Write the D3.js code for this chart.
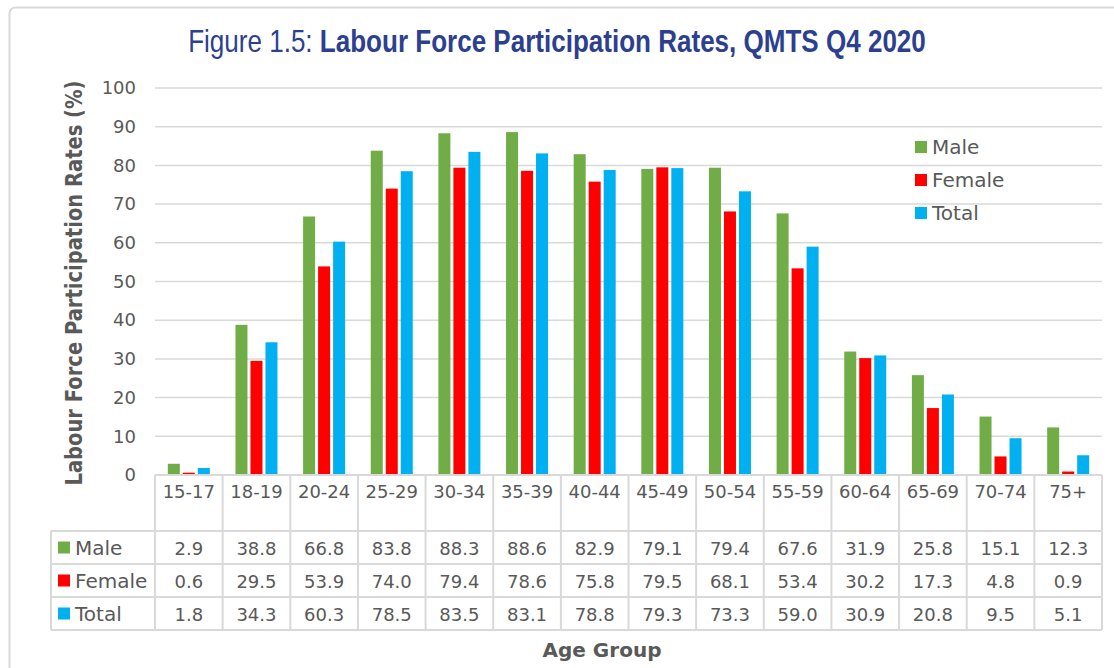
<!DOCTYPE html>
<html>
<head>
<meta charset="utf-8">
<script src="https://cdn.jsdelivr.net/npm/d3@7"></script>
<style>
  body { margin: 0; background: #fff; }
  svg { display: block; }
</style>
</head>
<body>
<svg id="chart"></svg>
<script>
const ageGroups = ["15-17", "18-19", "20-24", "25-29", "30-34", "35-39", "40-44", "45-49", "50-54", "55-59", "60-64", "65-69", "70-74", "75+"];
const maleRates = [2.9, 38.8, 66.8, 83.8, 88.3, 88.6, 82.9, 79.1, 79.4, 67.6, 31.9, 25.8, 15.1, 12.3];
const femaleRates = [0.6, 29.5, 53.9, 74.0, 79.4, 78.6, 75.8, 79.5, 68.1, 53.4, 30.2, 17.3, 4.8, 0.9];
const totalRates = [1.8, 34.3, 60.3, 78.5, 83.5, 83.1, 78.8, 79.3, 73.3, 59.0, 30.9, 20.8, 9.5, 5.1];
const seriesNames = ["Male", "Female", "Total"];
const seriesColors = ["#70AD47", "#FF0000", "#00B0F0"];
const yTicks = [0, 10, 20, 30, 40, 50, 60, 70, 80, 90, 100];

const width = 1114;
const height = 668;
const textColor = "#595959";
const lineColor = "#D9D9D9";
const font = "'DejaVu Sans', sans-serif";
const titleFont = "'Liberation Sans', sans-serif";

const series = [maleRates, femaleRates, totalRates];

const svg = d3.select("#chart")
  .attr("width", width)
  .attr("height", height)
  .style("font-family", font);

// outer frame
svg.append("rect")
  .attr("x", 9.5).attr("y", 7.5)
  .attr("width", 1130).attr("height", 700)
  .attr("rx", 6)
  .attr("fill", "none")
  .attr("stroke", lineColor)
  .attr("stroke-width", 2);

const x = d3.scaleBand()
  .domain(ageGroups)
  .range([155, 1102]);

const xInner = d3.scaleBand()
  .domain(seriesNames)
  .range([-21, 21])
  .paddingInner(0.2);

const y = d3.scaleLinear()
  .domain([0, 100])
  .range([475, 88]);

// title, squeezed horizontally to look condensed
const title = svg.append("text")
  .attr("text-anchor", "middle")
  .attr("fill", "#2D3F8F")
  .style("font-family", titleFont)
  .style("font-size", "32px");
title.append("tspan").text("Figure 1.5: ");
title.append("tspan").attr("font-weight", "bold").text("Labour Force Participation Rates, QMTS Q4 2020");
const natural = title.node().getComputedTextLength();
title.attr("transform", `translate(557,52) scale(${738 / natural},1)`);

// gridlines
svg.append("g")
  .selectAll("line")
  .data(yTicks.filter(t => t > 0))
  .join("line")
  .attr("x1", 155).attr("x2", 1102)
  .attr("y1", d => y(d)).attr("y2", d => y(d))
  .attr("stroke", lineColor)
  .attr("stroke-width", 1.5);

// y axis labels
const yAxis = svg.append("g")
  .attr("transform", "translate(155,0)")
  .call(d3.axisLeft(y).tickValues(yTicks).tickSize(0).tickPadding(19));
yAxis.select(".domain").remove();
yAxis.selectAll("text")
  .attr("fill", textColor)
  .style("font-family", font)
  .style("font-size", "18px");

svg.append("text")
  .attr("transform", "translate(82,283) rotate(-90)")
  .attr("text-anchor", "middle")
  .attr("fill", textColor)
  .attr("font-weight", "bold")
  .style("font-size", "23px")
  .attr("textLength", 405)
  .attr("lengthAdjust", "spacingAndGlyphs")
  .text("Labour Force Participation Rates (%)");

// bars
const groups = svg.append("g")
  .selectAll("g")
  .data(ageGroups)
  .join("g")
  .attr("transform", d => `translate(${x(d) + x.bandwidth() / 2},0)`);

groups.selectAll("rect")
  .data((d, i) => seriesNames.map((s, j) => ({ name: s, value: series[j][i], color: seriesColors[j] })))
  .join("rect")
  .attr("x", d => xInner(d.name))
  .attr("width", xInner.bandwidth())
  .attr("y", d => y(d.value))
  .attr("height", d => y(0) - y(d.value))
  .attr("fill", d => d.color);

// legend
const legend = svg.append("g")
  .selectAll("g")
  .data(seriesNames)
  .join("g")
  .attr("transform", (d, i) => `translate(915,${147 + i * 33})`);
legend.append("rect")
  .attr("x", 0).attr("y", -6)
  .attr("width", 12).attr("height", 12)
  .attr("fill", (d, i) => seriesColors[i]);
legend.append("text")
  .attr("x", 17).attr("y", 7)
  .attr("fill", textColor)
  .style("font-size", "20px")
  .text(d => d);

// data table
const headerTop = 475, headerBottom = 531, rowH = 33;
const tableBottom = headerBottom + rowH * 3;
const table = svg.append("g");

// horizontal borders
table.append("line")
  .attr("x1", 155).attr("x2", 1102)
  .attr("y1", headerTop).attr("y2", headerTop);
[0, 1, 2, 3].forEach(r => {
  table.append("line")
    .attr("x1", 51).attr("x2", 1102)
    .attr("y1", headerBottom + r * rowH).attr("y2", headerBottom + r * rowH);
});
// vertical borders
table.append("line")
  .attr("x1", 51).attr("x2", 51)
  .attr("y1", headerBottom).attr("y2", tableBottom);
ageGroups.forEach(g => {
  table.append("line")
    .attr("x1", x(g)).attr("x2", x(g))
    .attr("y1", headerTop).attr("y2", tableBottom);
});
table.append("line")
  .attr("x1", 1102).attr("x2", 1102)
  .attr("y1", headerTop).attr("y2", tableBottom);
table.selectAll("line")
  .attr("stroke", lineColor)
  .attr("stroke-width", 2);

// header labels
table.selectAll("text.hdr")
  .data(ageGroups)
  .join("text")
  .attr("class", "hdr")
  .attr("x", d => x(d) + x.bandwidth() / 2)
  .attr("y", 498)
  .attr("text-anchor", "middle")
  .attr("fill", textColor)
  .style("font-size", "18px")
  .text(d => d);

// row labels and values
seriesNames.forEach((name, j) => {
  const cy = headerBottom + rowH * j + rowH / 2;
  table.append("rect")
    .attr("x", 58).attr("y", cy - 6)
    .attr("width", 12).attr("height", 12)
    .attr("fill", seriesColors[j]);
  table.append("text")
    .attr("x", 75).attr("y", cy + 7)
    .attr("fill", textColor)
    .style("font-size", "20px")
    .text(name);
  table.selectAll(null)
    .data(series[j])
    .join("text")
    .attr("x", (d, i) => x(ageGroups[i]) + x.bandwidth() / 2)
    .attr("y", cy + 7)
    .attr("text-anchor", "middle")
    .attr("fill", textColor)
    .style("font-size", "18px")
    .text(d => d.toFixed(1));
});

// x axis title
svg.append("text")
  .attr("x", 602)
  .attr("y", 657)
  .attr("text-anchor", "middle")
  .attr("fill", textColor)
  .attr("font-weight", "bold")
  .style("font-size", "20px")
  .text("Age Group");
</script>
</body>
</html>
